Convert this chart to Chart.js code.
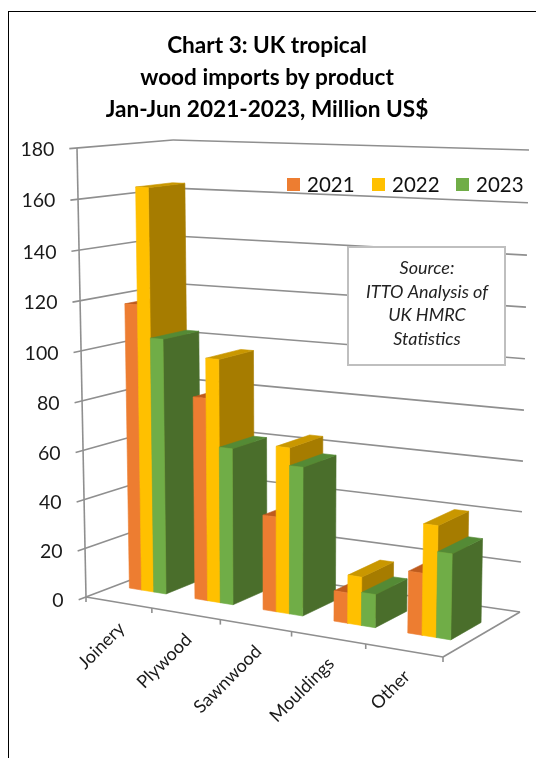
<!DOCTYPE html>
<html>
<head>
<meta charset="utf-8">
<title>UK tropical wood imports by product</title>
<script src="https://cdn.jsdelivr.net/npm/chart.js@4"></script>
<style>
  html, body { margin: 0; padding: 0; background: #fff; }
  #wrap { position: relative; width: 536px; height: 758px; overflow: hidden; }
  #frame { position: absolute; left: 8px; top: 11px; width: 540px; height: 760px; border-left: 1.5px solid #000; border-top: 1.5px solid #000; }
  canvas { position: absolute; left: 0; top: 0; }
</style>
</head>
<body>
<div id="wrap">
  <div id="frame"></div>
  <canvas id="chart" width="536" height="758"></canvas>
</div>
<script>
const categories = ['Joinery', 'Plywood', 'Sawnwood', 'Mouldings', 'Other'];
const values2021 = [117, 82, 38, 12, 24];
const values2022 = [164, 98, 66, 19, 43];
const values2023 = [104, 63, 59, 13, 33];
const sourceLines = ['Source:', 'ITTO Analysis of', 'UK HMRC', 'Statistics'];

// each series: front, top and side face colours
const faces = [
  { front: '#ED7D31', top: '#BE5B1E', side: '#A9521C' },
  { front: '#FFC000', top: '#C99700', side: '#A67C00' },
  { front: '#70AD47', top: '#548A35', side: '#4A6E2B' }
];

// corners of the plot box on screen: [front-left, front-right, back-left, back-right]
const floor = [[86, 597], [443, 657], [178, 562], [520, 612]];
const ceiling = [[77, 148], [452, 164], [173, 140], [529, 150]];
const barDepth = [0.32, 0.71];

const foreshorten = (t, w) => t * w / (1 + t * (w - 1));
const mix = (a, b, t) => [a[0] + (b[0] - a[0]) * t, a[1] + (b[1] - a[1]) * t];

// u along the categories, v up the value axis, d into the page, all 0..1
function project(u, v, d) {
  const gu = foreshorten(u, 0.905), fv = foreshorten(v, 0.97);
  const plane = c => mix(mix(c[0], c[1], gu), mix(c[2], c[3], gu), d);
  return mix(plane(floor), plane(ceiling), fv);
}

function quad(ctx, pts, colour) {
  ctx.beginPath();
  pts.forEach((p, i) => i ? ctx.lineTo(p[0], p[1]) : ctx.moveTo(p[0], p[1]));
  ctx.closePath();
  ctx.fillStyle = colour;
  ctx.strokeStyle = colour;
  ctx.lineWidth = 0.6;
  ctx.fill();
  ctx.stroke();
}

function line(ctx, a, b) {
  ctx.beginPath();
  ctx.moveTo(a[0], a[1]);
  ctx.lineTo(b[0], b[1]);
  ctx.stroke();
}

const box3d = {
  id: 'box3d',
  beforeDatasetsDraw(chart) {
    const ctx = chart.ctx, area = chart.chartArea;
    const { x: xScale, y: yScale } = chart.scales;
    const vOf = val => (area.bottom - yScale.getPixelForValue(val)) / area.height;

    // walls and floor
    ctx.save();
    ctx.strokeStyle = '#8f8f8f';
    ctx.lineWidth = 1.6;
    yScale.ticks.forEach(t => {
      const v = vOf(t.value);
      line(ctx, project(0, v, -0.08), project(0, v, 1));
      line(ctx, project(0, v, 1), project(1, v, 1));
    });
    line(ctx, project(0, 0, 0), project(0, 1, 0));
    line(ctx, project(0, 0, 0), project(1, 0, 0));
    line(ctx, project(1, 0, 0), project(1, 0, 1));
    for (let i = 0; i <= categories.length; i++) {
      const p = project(i / categories.length, 0, 0);
      line(ctx, p, [p[0], p[1] + 5]);
    }

    // value labels sit left of each tick on the front edge
    ctx.fillStyle = '#1a1a1a';
    ctx.font = '19.5px Lato';
    ctx.textAlign = 'right';
    ctx.textBaseline = 'middle';
    yScale.ticks.forEach(t => {
      const p = project(0, vOf(t.value), -0.08);
      ctx.fillText(t.label, p[0] - 15, p[1] + 1);
    });

    // category labels along the front floor edge
    ctx.font = '18px Lato';
    categories.forEach((name, i) => {
      const u = (xScale.getPixelForValue(i) - area.left) / area.width;
      const p = project(u, 0, 0);
      ctx.save();
      ctx.translate(p[0] + 3, p[1] + 23);
      ctx.rotate(-Math.PI / 4);
      ctx.fillText(name, 0, 0);
      ctx.restore();
    });

    // bars, left to right so nearer ones cover the sides of farther ones
    const [d0, d1] = barDepth;
    categories.forEach((_, j) => {
      chart.data.datasets.forEach((ds, s) => {
        const el = chart.getDatasetMeta(s).data[j];
        const u0 = (el.x - el.width / 2 - area.left) / area.width;
        const u1 = (el.x + el.width / 2 - area.left) / area.width;
        const v = vOf(ds.data[j]);
        const c = faces[s];
        quad(ctx, [project(u1, 0, d0), project(u1, 0, d1), project(u1, v, d1), project(u1, v, d0)], c.side);
        quad(ctx, [project(u0, v, d0), project(u1, v, d0), project(u1, v, d1), project(u0, v, d1)], c.top);
        quad(ctx, [project(u0, 0, d0), project(u1, 0, d0), project(u1, v, d0), project(u0, v, d0)], c.front);
      });
    });
    ctx.restore();
    return false;
  },
  afterDraw(chart) {
    const ctx = chart.ctx;
    ctx.save();

    // series key
    const keyX = [287, 372, 456];
    ctx.font = '20.5px Lato';
    ctx.textAlign = 'left';
    ctx.textBaseline = 'middle';
    chart.data.datasets.forEach((ds, s) => {
      ctx.fillStyle = ds.backgroundColor;
      ctx.fillRect(keyX[s], 178, 13, 13);
      ctx.fillStyle = '#111';
      ctx.fillText(ds.label, keyX[s] + 20, 185);
    });

    // source note
    ctx.fillStyle = '#fff';
    ctx.strokeStyle = '#BFBFBF';
    ctx.lineWidth = 2;
    ctx.fillRect(348, 247, 157, 118);
    ctx.strokeRect(348, 247, 157, 118);
    ctx.fillStyle = '#222';
    ctx.font = 'italic 18px Lato';
    ctx.textAlign = 'center';
    sourceLines.forEach((t, i) => ctx.fillText(t, 427, 268 + i * 23.7));
    ctx.restore();
  }
};

new Chart(document.getElementById('chart'), {
  type: 'bar',
  data: {
    labels: categories,
    datasets: [
      { label: '2021', data: values2021, backgroundColor: faces[0].front },
      { label: '2022', data: values2022, backgroundColor: faces[1].front },
      { label: '2023', data: values2023, backgroundColor: faces[2].front }
    ]
  },
  options: {
    responsive: false,
    animation: false,
    layout: { padding: { right: 2 } },
    datasets: { bar: { categoryPercentage: 0.564, barPercentage: 1 } },
    plugins: {
      legend: { display: false },
      tooltip: { enabled: false },
      title: {
        display: true,
        text: ['Chart 3: UK tropical', 'wood imports by product', 'Jan-Jun 2021-2023, Million US$'],
        color: '#000',
        font: { family: 'Lato', size: 22.6, weight: 'bold', lineHeight: 1.416 },
        padding: { top: 29.5, bottom: 10 }
      }
    },
    scales: {
      x: { display: false },
      y: { display: false, min: 0, max: 180, ticks: { stepSize: 20 } }
    }
  },
  plugins: [box3d]
});
</script>
</body>
</html>
